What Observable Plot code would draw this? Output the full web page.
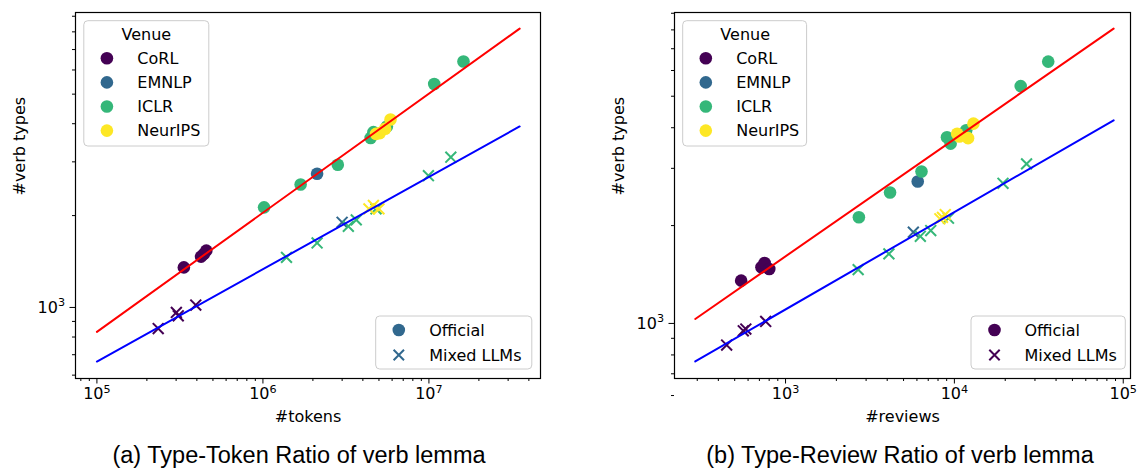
<!DOCTYPE html>
<html>
<head>
<meta charset="utf-8">
<script src="https://cdn.jsdelivr.net/npm/d3@7"></script>
<script src="https://cdn.jsdelivr.net/npm/@observablehq/plot@0.6"></script>
<style>
  body { margin: 0; background: #ffffff; }
  #wrap { position: relative; width: 1137px; height: 470px; overflow: hidden; background: #fff; font-family: "DejaVu Sans"; }
  #wrap svg { position: absolute; top: 0; }
  .caption { position: absolute; top: 443px; width: 600px; text-align: center; font-family: "Liberation Sans", Arial, sans-serif; font-size: 23.5px; line-height: 24px; color: #000; white-space: nowrap; }
</style>
</head>
<body>
<div id="wrap"></div>
<script>
// ---------- data ----------
const venues = ["CoRL", "EMNLP", "ICLR", "NeurIPS"];
const venueColors = ["#440154", "#31688e", "#35b779", "#fde725"];

// (a) Type-Token: official reviews
const ttrOffVenue  = ["CoRL","CoRL","CoRL","CoRL","EMNLP","ICLR","ICLR","ICLR","ICLR","ICLR","ICLR","ICLR","ICLR","NeurIPS","NeurIPS","NeurIPS","NeurIPS"];
const ttrOffTokens = [334000, 424000, 440000, 456000, 2120000, 1016000, 1687000, 2825000, 4456000, 4630000, 5580000, 10760000, 16150000, 4800000, 5060000, 5450000, 5870000];
const ttrOffVerbs  = [1353, 1467, 1495, 1535, 2742, 2128, 2530, 2935, 3590, 3753, 3918, 5395, 6393, 3706, 3726, 3852, 4131];
// (a) Type-Token: mixed LLM reviews
const ttrMixVenue  = ["CoRL","CoRL","CoRL","CoRL","EMNLP","ICLR","ICLR","ICLR","ICLR","ICLR","ICLR","ICLR","NeurIPS","NeurIPS","NeurIPS"];
const ttrMixTokens = [234000, 301000, 309000, 394000, 3000000, 1387000, 2120000, 3270000, 3650000, 4800000, 9930000, 13550000, 4350000, 4630000, 5000000];
const ttrMixVerbs  = [853, 963, 939, 1018, 1901, 1459, 1627, 1845, 1936, 2104, 2703, 3108, 2104, 2158, 2104];
// (a) fitted lines
const ttrFitTokens   = [100000, 35200000];
const ttrFitOfficial = [832, 8200];
const ttrFitMixed    = [665, 3917];

// (b) Type-Review: official reviews
const trrOffVenue   = ["CoRL","CoRL","CoRL","CoRL","EMNLP","ICLR","ICLR","ICLR","ICLR","ICLR","ICLR","ICLR","ICLR","NeurIPS","NeurIPS","NeurIPS","NeurIPS"];
const trrOffReviews = [546, 720, 752, 801, 6065, 2719, 4159, 6385, 9040, 9500, 11750, 24700, 35950, 10390, 10700, 12050, 12970];
const trrOffVerbs   = [1354, 1488, 1535, 1471, 2734, 2122, 2528, 2935, 3741, 3573, 3927, 5372, 6390, 3835, 3760, 3716, 4117];
// (b) Type-Review: mixed LLM reviews
const trrMixVenue   = ["CoRL","CoRL","CoRL","CoRL","EMNLP","ICLR","ICLR","ICLR","ICLR","ICLR","ICLR","ICLR","NeurIPS","NeurIPS","NeurIPS"];
const trrMixReviews = [448, 562, 582, 763, 5714, 2692, 4094, 6285, 7245, 9225, 19400, 26760, 8204, 8830, 8500];
const trrMixVerbs   = [858, 949, 961, 1014, 1908, 1464, 1637, 1854, 1931, 2107, 2698, 3097, 2098, 2163, 2120];
// (b) fitted lines
const trrFitReviews  = [292, 87700];
const trrFitOfficial = [1032, 8074];
const trrFitMixed    = [764, 4214];

// ticks
const ttrXMajor = [1e5, 1e6, 1e7];
const ttrXMajorLabels = ["10⁵", "10⁶", "10⁷"];
const ttrXMinor = [8e4, 9e4, 2e5, 3e5, 4e5, 5e5, 6e5, 7e5, 8e5, 9e5, 2e6, 3e6, 4e6, 5e6, 6e6, 7e6, 8e6, 9e6, 2e7, 3e7, 4e7];
const trrXMajor = [1e3, 1e4, 1e5];
const trrXMajorLabels = ["10³", "10⁴", "10⁵"];
const trrXMinor = [300, 400, 500, 600, 700, 800, 900, 2000, 3000, 4000, 5000, 6000, 7000, 8000, 9000, 20000, 30000, 40000, 50000, 60000, 70000, 80000, 90000];
const yMajor = [1000];
const yMajorLabels = ["10³"];
const yMinor = [600, 700, 800, 900, 2000, 3000, 4000, 5000, 6000, 7000, 8000, 9000];

// ---------- helpers ----------
const zip = (v, x, y) => v.map((venue, i) => ({venue, x: x[i], y: y[i]}));
const fitRows = (x, y) => x.map((xx, i) => ({x: xx, y: y[i]}));
const lookup = (vals, labels) => d => { const i = vals.findIndex(v => Math.abs(v - d) / v < 1e-6); return i >= 0 ? labels[i] : ""; };
const supDigits = "⁰¹²³⁴⁵⁶⁷⁸⁹";

// turn "10⁵" into "10" + raised smaller digit, like matplotlib mathtext
function fixSuperscripts(svg) {
  svg.querySelectorAll("text").forEach(t => {
    const s = t.textContent;
    const m = s.match(/^10([⁰¹²³⁴⁵⁶⁷⁸⁹]+)$/);
    if (!m) return;
    const exp = [...m[1]].map(c => supDigits.indexOf(c)).join("");
    const target = t.querySelector("tspan") || t;
    target.textContent = "10";
    const ts = document.createElementNS("http://www.w3.org/2000/svg", "tspan");
    ts.setAttribute("dy", "-6.2");
    ts.setAttribute("font-size", "11.2");
    ts.textContent = exp;
    target.appendChild(ts);
  });
}

function panel(o) {
  const svg = Plot.plot({
    width: o.width, height: 440,
    marginLeft: o.marginLeft, marginRight: o.marginRight, marginTop: 12, marginBottom: 62,
    x: {type: "log", domain: o.xDomain},
    y: {type: "log", domain: o.yDomain},
    color: {type: "ordinal", domain: venues, range: venueColors},
    style: {fontFamily: "DejaVu Sans", fontSize: "16px", color: "black", background: "transparent", overflow: "visible"},
    marks: [
      Plot.dot(o.official, {x: "x", y: "y", fill: "venue", r: 6.3}),
      Plot.dot(o.mixed, {x: "x", y: "y", stroke: "venue", symbol: "times", r: 5, strokeWidth: 2}),
      Plot.line(o.fitOff, {x: "x", y: "y", stroke: "#ff0000", strokeWidth: 2}),
      Plot.line(o.fitMix, {x: "x", y: "y", stroke: "#0000ff", strokeWidth: 2}),
      Plot.axisX(o.xMinor, {tickSize: 3, tickFormat: () => "", label: null, strokeWidth: 1}),
      Plot.axisX(o.xMajor, {tickSize: 5.5, tickPadding: 4, tickFormat: lookup(o.xMajor, o.xMajorLabels), label: null, strokeWidth: 1}),
      Plot.axisY(yMinor, {tickSize: 3, tickFormat: () => "", label: null, strokeWidth: 1}),
      Plot.axisY(yMajor, {tickSize: 5.5, tickPadding: 5, tickFormat: lookup(yMajor, yMajorLabels), label: null, strokeWidth: 1}),
      Plot.text([o.xLabel], {frameAnchor: "bottom", dy: 43, text: d => d, fontSize: 16}),
      Plot.text(["#verb types"], {frameAnchor: "left", dx: -56, rotate: -90, text: d => d, fontSize: 16}),
      Plot.frame({stroke: "black", strokeWidth: 1.2})
    ]
  });
  fixSuperscripts(svg);
  return svg;
}

const wrap = document.getElementById("wrap");

const svgA = panel({
  width: 600, marginLeft: 75, marginRight: 60,
  xDomain: [74300, 4.70e7], yDomain: [585, 9258],
  official: zip(ttrOffVenue, ttrOffTokens, ttrOffVerbs),
  mixed: zip(ttrMixVenue, ttrMixTokens, ttrMixVerbs),
  fitOff: fitRows(ttrFitTokens, ttrFitOfficial),
  fitMix: fitRows(ttrFitTokens, ttrFitMixed),
  xMajor: ttrXMajor, xMajorLabels: ttrXMajorLabels, xMinor: ttrXMinor,
  xLabel: "#tokens"
});
svgA.style.left = "0px";
wrap.append(svgA);

const svgB = panel({
  width: 537, marginLeft: 74, marginRight: 7,
  xDomain: [220, 110400], yDomain: [677, 9048],
  official: zip(trrOffVenue, trrOffReviews, trrOffVerbs),
  mixed: zip(trrMixVenue, trrMixReviews, trrMixVerbs),
  fitOff: fitRows(trrFitReviews, trrFitOfficial),
  fitMix: fitRows(trrFitReviews, trrFitMixed),
  xMajor: trrXMajor, xMajorLabels: trrXMajorLabels, xMinor: trrXMinor,
  xLabel: "#reviews"
});
svgB.style.left = "600px";
wrap.append(svgB);

// ---------- legends (overlay) ----------
const ov = d3.create("svg").attr("width", 1137).attr("height", 470)
  .style("left", "0px").style("pointer-events", "none")
  .style("font-family", "DejaVu Sans").style("font-size", "16px");

function venueLegend(x, y, w, h, titleX, markerX, textX) {
  const g = ov.append("g");
  g.append("rect").attr("x", x).attr("y", y).attr("width", w).attr("height", h)
    .attr("rx", 4).attr("fill", "white").attr("fill-opacity", 0.8).attr("stroke", "#cccccc").attr("stroke-width", 1);
  g.append("text").attr("x", titleX).attr("y", 34).attr("dy", "0.35em").attr("text-anchor", "middle").text("Venue");
  venues.forEach((v, i) => {
    const cy = 58.3 + i * 24.1;
    g.append("circle").attr("cx", markerX).attr("cy", cy).attr("r", 6.3).attr("fill", venueColors[i]);
    g.append("text").attr("x", textX).attr("y", cy).attr("dy", "0.35em").text(v);
  });
}
function typeLegend(x, y, w, h, markerX, textX, color) {
  const g = ov.append("g");
  g.append("rect").attr("x", x).attr("y", y).attr("width", w).attr("height", h)
    .attr("rx", 4).attr("fill", "white").attr("fill-opacity", 0.8).attr("stroke", "#cccccc").attr("stroke-width", 1);
  g.append("circle").attr("cx", markerX).attr("cy", 330).attr("r", 6.3).attr("fill", color);
  g.append("text").attr("x", textX).attr("y", 330).attr("dy", "0.35em").text("Official");
  const s = 5.2;
  g.append("path").attr("d", `M${markerX - s},${355 - s}L${markerX + s},${355 + s}M${markerX - s},${355 + s}L${markerX + s},${355 - s}`)
    .attr("stroke", color).attr("stroke-width", 2).attr("fill", "none");
  g.append("text").attr("x", textX).attr("y", 355).attr("dy", "0.35em").text("Mixed LLMs");
}
venueLegend(83.8, 20.7, 125, 125.3, 146.3, 106.9, 137.3);
typeLegend(375.7, 316, 156.1, 53, 398.8, 429.2, "#31688e");
venueLegend(682.7, 20.7, 123.9, 125.3, 745.2, 705.8, 736.2);
typeLegend(971, 316, 154.3, 53, 994.5, 1024.5, "#440154");
wrap.append(ov.node());

// ---------- captions ----------
const captions = ["(a) Type-Token Ratio of verb lemma", "(b) Type-Review Ratio of verb lemma"];
const captionCenters = [299, 900];
captions.forEach((c, i) => {
  const d = document.createElement("div");
  d.className = "caption";
  d.style.left = (captionCenters[i] - 300) + "px";
  d.textContent = c;
  wrap.append(d);
});
</script>
</body>
</html>
